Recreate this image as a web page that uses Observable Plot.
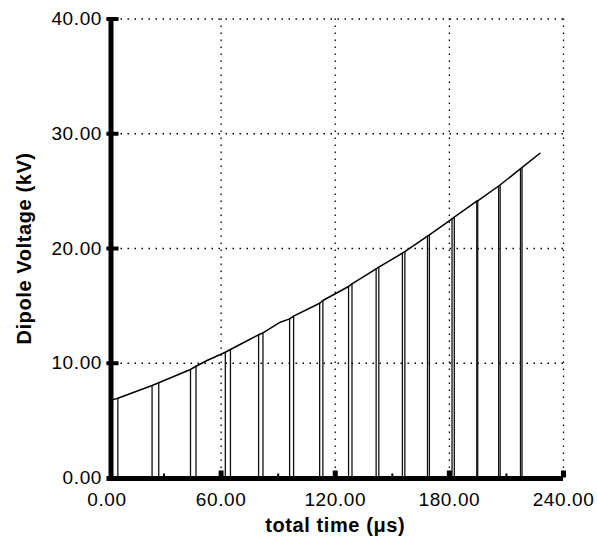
<!DOCTYPE html>
<html><head><meta charset="utf-8">
<script src="https://cdn.jsdelivr.net/npm/d3@7"></script>
<script src="https://cdn.jsdelivr.net/npm/@observablehq/plot@0.6"></script>
<style>
body{margin:0;background:#fff}
svg text{letter-spacing:0.6px}
g[aria-label="title"] text{letter-spacing:1.6px}
</style></head><body><div id="chart"></div>
<script>
// Envelope curve: time (µs) and voltage (kV)
const curveT = [2.7,5.7,23.7,27.2,43.9,46.8,52.6,62.2,64.9,79.7,82.0,91.1,96.0,98.1,111.8,113.5,127.0,128.8,141.5,142.9,155.3,156.6,168.5,169.5,175.1,181.4,182.6,194.4,194.9,206.3,217.8,227.6];
const curveV = [6.81,6.95,8.06,8.30,9.46,9.74,10.24,10.96,11.20,12.48,12.65,13.58,13.87,14.10,15.23,15.47,16.69,16.92,18.23,18.37,19.59,19.72,21.08,21.18,21.84,22.59,22.73,24.12,24.16,25.49,27.00,28.30];
// Pulse spikes: time (µs) and top voltage (kV)
const spikeT = [5.7,23.7,27.2,43.9,46.8,62.2,64.9,79.7,82.0,96.0,98.1,111.8,113.5,127.0,128.8,141.5,142.9,155.3,156.6,168.5,169.5,181.4,182.6,194.4,194.9,205.9,206.7,217.4,218.2];
const spikeV = [6.95,8.06,8.30,9.46,9.74,10.96,11.20,12.48,12.65,13.87,14.10,15.23,15.47,16.69,16.92,18.23,18.37,19.59,19.72,21.08,21.18,22.59,22.73,24.12,24.16,25.45,25.52,26.95,27.03];
const xTicks = [0,60,120,180,240];
const yTicks = [0,10,20,30,40];
const xMinor = [30,90,150,210];
const xGrid = [60,120,180,240];
const yGrid = [10,20,30,40];
const xTitle = "total time (\u03bcs)";
const yTitle = "Dipole Voltage (kV)";

const curve = curveT.map((t,i)=>({t, v: curveV[i]}));
const spikes = spikeT.map((t,i)=>({t, v: spikeV[i]}));
const fmt = d3.format(".2f");

const chart = Plot.plot({
  width: 597, height: 538,
  marginLeft: 106.5, marginRight: 34, marginTop: 18.5, marginBottom: 60.5,
  style: {fontFamily: "'Liberation Sans', Arial, sans-serif", fontSize: "19px", color: "#000", background: "#fff"},
  x: {domain: [0,240]},
  y: {domain: [0,40]},
  marks: [
    Plot.gridX({ticks: xGrid, stroke: "#000", strokeOpacity: 1, strokeWidth: 1.3, strokeDasharray: "1.5,5.5"}),
    Plot.gridY({ticks: yGrid, stroke: "#000", strokeOpacity: 1, strokeWidth: 1.3, strokeDasharray: "1.5,5.5"}),
    Plot.ruleX(spikes, {x: "t", y1: 0, y2: "v", stroke: "#111", strokeWidth: 1.3}),
    Plot.line(curve, {x: "t", y: "v", stroke: "#000", strokeWidth: 1.5}),
    Plot.ruleY([0], {stroke: "#000", strokeWidth: 5, dy: 0.5}),
    Plot.ruleX([0], {stroke: "#000", strokeWidth: 5, dx: 4}),
    Plot.axisY({ticks: yGrid, tickSize: -12, strokeWidth: 4, text: null, label: null}),
    Plot.axisX({ticks: xGrid, tickSize: -7, strokeWidth: 5, text: null, label: null}),
    Plot.axisX({ticks: xMinor, tickSize: -4, strokeWidth: 2, text: null, label: null}),
    Plot.axisX({ticks: xTicks, tickSize: 0, tickPadding: 14, tickFormat: fmt, label: null, fontSize: 19}),
    Plot.axisY({ticks: yTicks, tickSize: 0, tickPadding: 5, tickFormat: fmt, label: null, fontSize: 19}),
    Plot.text([xTitle], {frameAnchor: "bottom", textAnchor: "middle", lineAnchor: "middle", dy: 48, fontWeight: "bold", fontSize: 20, ariaLabel: "title"}),
    Plot.text([yTitle], {frameAnchor: "left", textAnchor: "middle", lineAnchor: "middle", rotate: -90, dx: -82, fontWeight: "bold", fontSize: 20, ariaLabel: "title"})
  ]
});
document.getElementById("chart").appendChild(chart);
</script></body></html>
